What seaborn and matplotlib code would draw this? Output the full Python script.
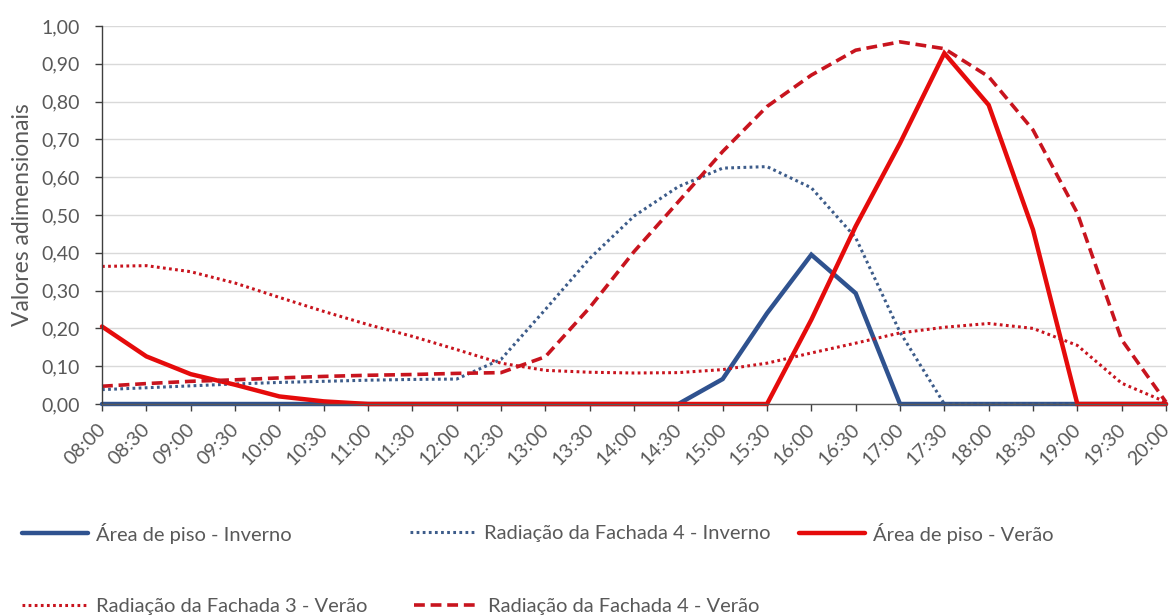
import matplotlib
matplotlib.use("Agg")
import matplotlib.pyplot as plt
from matplotlib.lines import Line2D
from matplotlib.transforms import ScaledTranslation
import seaborn as sns
import pandas as pd

horarios = ["08:00", "08:30", "09:00", "09:30", "10:00", "10:30", "11:00", "11:30",
            "12:00", "12:30", "13:00", "13:30", "14:00", "14:30", "15:00", "15:30",
            "16:00", "16:30", "17:00", "17:30", "18:00", "18:30", "19:00", "19:30", "20:00"]

area_piso_inverno = [0, 0, 0, 0, 0, 0, 0, 0, 0, 0, 0, 0, 0, 0,
                     0.066, 0.24, 0.395, 0.293, 0, 0, 0, 0, 0, 0, 0]

rad_fachada4_inverno = [0.038, 0.043, 0.048, 0.053, 0.057, 0.060, 0.063, 0.065, 0.066,
                        0.118, 0.25, 0.385, 0.497, 0.575, 0.624, 0.628, 0.572, 0.44,
                        0.19, 0, 0, 0, 0, 0, 0]

area_piso_verao = [0.205, 0.126, 0.079, 0.051, 0.02, 0.007, 0, 0, 0, 0, 0, 0, 0, 0,
                   0, 0, 0.223, 0.47, 0.69, 0.928, 0.791, 0.461, 0, 0, 0]

rad_fachada3_verao = [0.364, 0.366, 0.35, 0.32, 0.282, 0.245, 0.21, 0.179, 0.144,
                      0.108, 0.089, 0.084, 0.082, 0.083, 0.091, 0.108, 0.135, 0.161,
                      0.188, 0.203, 0.213, 0.2, 0.155, 0.055, 0.005]

rad_fachada4_verao = [0.047, 0.054, 0.06, 0.064, 0.069, 0.073, 0.076, 0.078, 0.081,
                      0.083, 0.125, 0.255, 0.403, 0.535, 0.668, 0.787, 0.87, 0.936,
                      0.958, 0.94, 0.866, 0.725, 0.505, 0.17, 0.005]

nomes = ["Área de piso - Inverno", "Radiação da Fachada 4 - Inverno", "Área de piso - Verão",
         "Radiação da Fachada 3 - Verão", "Radiação da Fachada 4 - Verão"]
valores = [area_piso_inverno, rad_fachada4_inverno, area_piso_verao,
           rad_fachada3_verao, rad_fachada4_verao]

AZUL = "#2F528F"
AZUL_PONT = "#3D5C8A"
VERMELHO = "#E50B0B"
VERMELHO_ESC = "#C8141E"
CINZA = "#595959"

estilos = [
    dict(color=AZUL, linewidth=3.2, linestyle="-"),
    dict(color=AZUL_PONT, linewidth=2.2, linestyle=(0, (0.9, 1.1))),
    dict(color=VERMELHO, linewidth=3.2, linestyle="-"),
    dict(color=VERMELHO_ESC, linewidth=2.2, linestyle=(0, (0.9, 1.1))),
    dict(color=VERMELHO_ESC, linewidth=2.6, linestyle=(0, (3.0, 1.6))),
]

sns.set_theme(style="white")
plt.rcParams["font.family"] = ["Lato", "DejaVu Sans"]

fig = plt.figure(figsize=(11.74, 6.15), dpi=100)
ax = fig.add_axes([102 / 1174, 1 - 404 / 615, (1166 - 102) / 1174, (404 - 26) / 615])

pos = list(range(len(horarios)))
for nome, serie, est in zip(nomes, valores, estilos):
    df = pd.DataFrame({"pos": pos, "valor": serie})
    sns.lineplot(data=df, x="pos", y="valor", ax=ax, clip_on=False,
                 solid_joinstyle="miter", **est)

ax.set_xlim(0, len(horarios) - 1)
ax.set_ylim(0, 1.0)
yt = [i / 10 for i in range(11)]
ax.set_yticks(yt)
ax.set_yticklabels([f"{v:.2f}".replace(".", ",") for v in yt])
ax.set_xticks(pos)
ax.set_xticklabels(horarios, rotation=45, ha="right", rotation_mode="anchor")

ax.yaxis.grid(True, color="#D9D9D9", linewidth=1.0)
ax.xaxis.grid(False)
ax.set_axisbelow(True)
for lado in ["top", "right"]:
    ax.spines[lado].set_visible(False)
ax.spines["left"].set_color("#3F3F3F")
ax.spines["bottom"].set_color(CINZA)
ax.spines["left"].set_linewidth(1.0)
ax.spines["bottom"].set_linewidth(1.0)
ax.tick_params(axis="y", which="major", direction="out", length=5, width=1,
               color="#3F3F3F", pad=11, labelsize=14, labelcolor=CINZA, left=True)
ax.tick_params(axis="x", which="major", direction="out", length=5, width=1,
               color="#3F3F3F", pad=7, labelsize=14, labelcolor=CINZA, bottom=True)

# nudge the rotated hour labels a little to the left of their ticks
desloc = ScaledTranslation(-5 / 100, 0, fig.dpi_scale_trans)
for tick in ax.xaxis.get_major_ticks():
    tick.label1.set_transform(tick.label1.get_transform() + desloc)

ax.set_xlabel("")
ax.set_ylabel("Valores adimensionais", fontsize=16.5, color=CINZA, labelpad=6)

# legend entries placed in two rows below the plot
posicoes = [(22, 533), (410, 533), (799, 533), (22, 606), (414, 606)]
for nome, est, (px, py) in zip(nomes, estilos, posicoes):
    h = Line2D([], [], **est)
    leg = fig.legend([h], [nome], loc="center left",
                     bbox_to_anchor=(px / 1174, 1 - py / 615),
                     frameon=False, fontsize=14.5, handlelength=3.3,
                     handletextpad=0.35, borderpad=0, borderaxespad=0)
    for t in leg.get_texts():
        t.set_color(CINZA)

fig.savefig("out.png", dpi=100)
